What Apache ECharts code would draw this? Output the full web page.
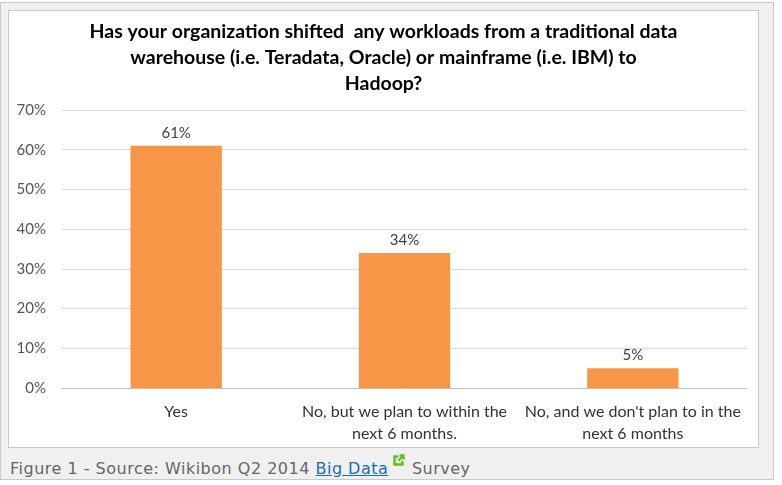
<!DOCTYPE html>
<html>
<head>
<meta charset="utf-8">
<script src="https://cdn.jsdelivr.net/npm/echarts@6/dist/echarts.min.js"></script>
<style>
    body { margin: 0; background: #fff; }
    #frame {
        position: absolute; left: 0; top: 2px; width: 772px; height: 476px;
        background: #f0f0f0; border: 1px solid #c8c8c8;
    }
    #box {
        position: absolute; left: 7px; top: 7px; width: 749px; height: 436px;
        background: #fff; border: 1px solid #c8c8c8;
    }
    #chart { width: 749px; height: 436px; }
    #caption {
        position: absolute; left: 9px; top: 451px; white-space: nowrap;
        font-family: 'DejaVu Sans', Verdana, sans-serif; font-size: 16px; line-height: 19px;
        letter-spacing: 0.5px; color: #666;
    }
    #caption a { color: #1a6db5; text-decoration: underline; }
    #caption svg { vertical-align: 7px; margin: 0 1px 0 4px; }
</style>
</head>
<body>
<div id="frame">
    <div id="box"><div id="chart"></div></div>
    <div id="caption">Figure 1 - Source: Wikibon Q2 2014 <a href="#">Big Data</a><svg width="13" height="13" viewBox="0 0 13 13"><path d="M6 2.5H2.5v8h8V7" fill="none" stroke="#5cc01e" stroke-width="2.4"/><path d="M6.5 6.5l5-5M7.5 1.5h4v4" fill="none" stroke="#5cc01e" stroke-width="2.4"/></svg> Survey</div>
</div>
<script>
// 图表数据
var titleText = 'Has your organization shifted  any workloads from a traditional data\nwarehouse (i.e. Teradata, Oracle) or mainframe (i.e. IBM) to\nHadoop?'
var categories = ['Yes', 'No, but we plan to within the\nnext 6 months.', 'No, and we don\'t plan to in the\nnext 6 months']
var values = [61, 34, 5]
var yTicks = [0, 10, 20, 30, 40, 50, 60, 70]

var font = 'Lato, "Liberation Sans", sans-serif'
var chart = echarts.init(document.getElementById('chart'))
var option = {
    animation: false,
    title: {
        text: titleText,
        left: 'center',
        top: 3,
        textStyle: {
            fontFamily: font,
            fontSize: 19.5,
            fontWeight: 'bold',
            color: '#000',
            lineHeight: 26
        }
    },
    grid: {
        left: 53,
        right: 11,
        top: 99,
        bottom: 59
    },
    xAxis: {
        type: 'category',
        data: categories,
        axisTick: { show: false },
        axisLine: { lineStyle: { color: '#bfbfbf' } },
        axisLabel: {
            fontFamily: font,
            fontSize: 16,
            color: '#333',
            margin: 13,
            lineHeight: 22,
            interval: 0
        }
    },
    yAxis: {
        type: 'value',
        min: yTicks[0],
        max: yTicks[yTicks.length - 1],
        interval: 10,
        axisLine: { show: false },
        axisTick: { show: false },
        splitLine: { lineStyle: { color: '#d9d9d9' } },
        axisLabel: {
            fontFamily: font,
            fontSize: 15,
            color: '#555',
            margin: 16,
            formatter: '{value}%'
        }
    },
    series: [{
        type: 'bar',
        data: values,
        barWidth: '40%',
        itemStyle: { color: '#f79646' },
        label: {
            show: true,
            position: 'top',
            distance: 5,
            fontFamily: font,
            fontSize: 15,
            color: '#404040',
            formatter: '{c}%'
        }
    }]
}
chart.setOption(option)
</script>
</body>
</html>
